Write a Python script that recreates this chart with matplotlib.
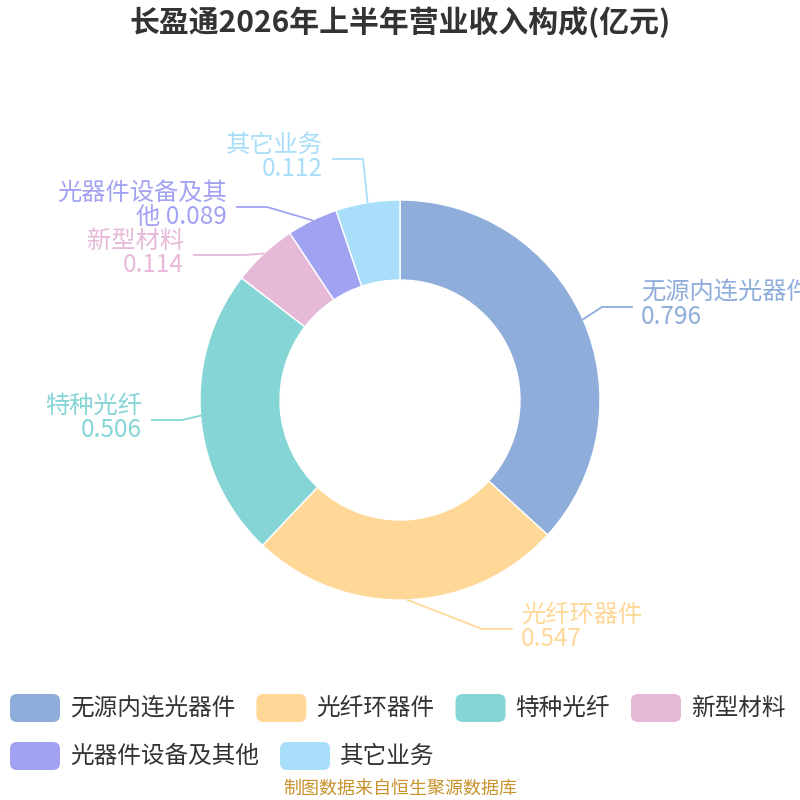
import numpy as np
import matplotlib
matplotlib.use('Agg')
import matplotlib.pyplot as plt
from matplotlib.patches import FancyBboxPatch

plt.rcParams['font.family'] = ['Noto Sans CJK SC', 'DejaVu Sans']

# =============================================================================
#                               Data
# =============================================================================
title = '长盈通2026年上半年营业收入构成(亿元)'
categories = ['无源内连光器件', '光纤环器件', '特种光纤', '新型材料', '光器件设备及其他', '其它业务']
values = [0.796, 0.547, 0.506, 0.114, 0.089, 0.112]
source = '制图数据来自恒生聚源数据库'

colors = ['#8eadda', '#ffd898', '#85d5d7', '#e6b9d9', '#a2a2f3', '#a8defa']

# label layout: (elbow x, elbow y, end x, text align, text label) in pixel coords (y from top)
label_layout = [
    (602, 307, 632, 'left', '无源内连光器件\n0.796'),
    (482, 629, 512, 'left', '光纤环器件\n0.547'),
    (182, 420, 152, 'right', '特种光纤\n0.506'),
    (245, 255, 194, 'right', '新型材料\n0.114'),
    (267, 207, 237, 'right', '光器件设备及其\n他 0.089'),
    (363, 159, 333, 'right', '其它业务\n0.112'),
]

W, H = 800, 800
fig = plt.figure(figsize=(8, 8), dpi=100)
ax = fig.add_axes([0, 0, 1, 1])


def py(y):
    return H - y


cx, cy, r_out, r_in = 400, 400, 200, 120
wedges, _ = ax.pie(values, colors=colors, startangle=90, counterclock=False,
                   radius=r_out, center=(cx, py(cy)), frame=True,
                   wedgeprops=dict(width=r_out - r_in, edgecolor='white', linewidth=1))
ax.set_xlim(0, W)
ax.set_ylim(0, H)
ax.set_aspect('equal')
ax.axis('off')

# leader lines + labels
for w, col, (ex, ey, endx, ha, txt) in zip(wedges, colors, label_layout):
    mid = np.deg2rad((w.theta1 + w.theta2) / 2)
    sx = cx + r_out * np.cos(mid)
    sy = py(cy) + r_out * np.sin(mid)
    ax.plot([sx, ex, endx], [sy, py(ey), py(ey)], color=col, lw=1.3)
    tx = endx + 9 if ha == 'left' else endx - 10
    ax.text(tx, py(ey) + 2, txt, ha=ha, va='center', color=col, fontsize=17.5,
            linespacing=0.92, clip_on=False)

# title
ax.text(400, py(22), title, ha='center', va='center', fontsize=21.5,
        fontweight='bold', color='#333333')

# legend drawn manually
fig.canvas.draw()
renderer = fig.canvas.get_renderer()
rows = [categories[:4], categories[4:]]
row_y = [708, 756]
idx = 0
for items, ry in zip(rows, row_y):
    x = 10
    for name in items:
        col = colors[idx]
        idx += 1
        box = FancyBboxPatch((x, py(ry) - 14), 50, 28,
                             boxstyle='round,pad=0,rounding_size=7',
                             facecolor=col, edgecolor='none')
        ax.add_patch(box)
        t = ax.text(x + 60, py(ry), name, ha='left', va='center',
                    fontsize=17, color='#333333')
        bb = t.get_window_extent(renderer=renderer)
        x = x + 60 + bb.width + 21

ax.text(400, py(789), source, ha='center', va='center', fontsize=13,
        color='#c8922c')

fig.savefig('out.png', dpi=100)
